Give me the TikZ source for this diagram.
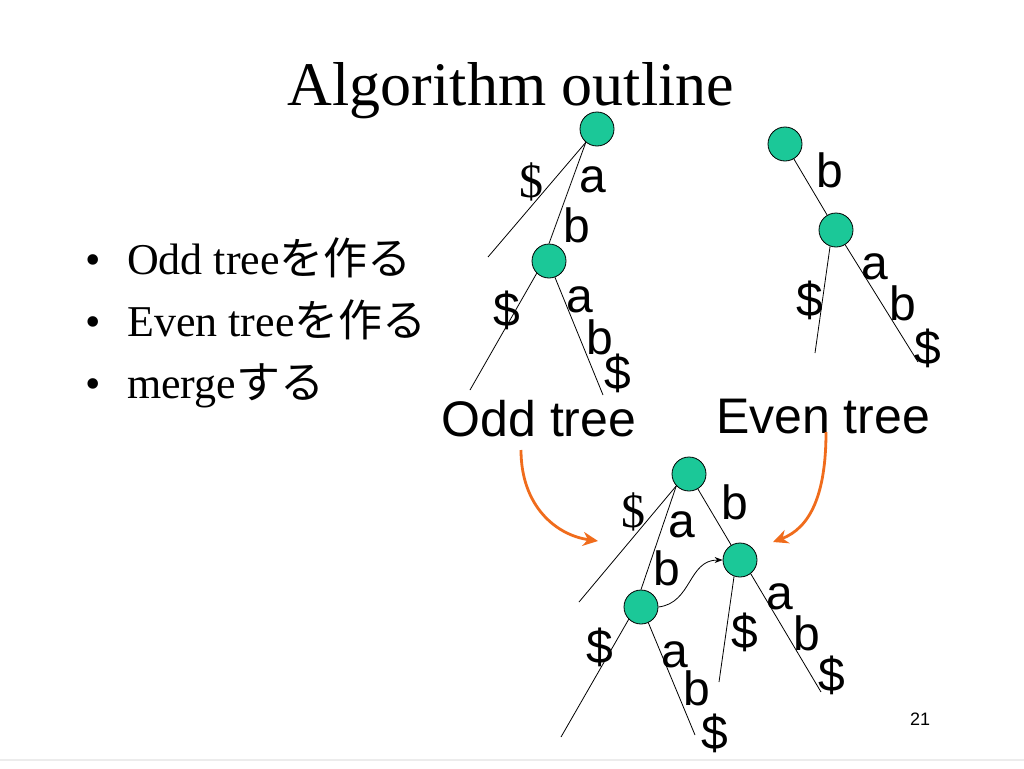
\documentclass[tikz,border=0pt]{standalone}
\usepackage{fontspec}
\setmainfont{Liberation Serif}
\setsansfont{Liberation Sans}
\newfontfamily\jpfont{Noto Sans CJK JP}
\usetikzlibrary{arrows.meta}
\definecolor{nodegreen}{RGB}{27,200,152}
\definecolor{mergeorange}{RGB}{240,108,28}

\begin{document}
\begin{tikzpicture}[x=1pt,y=-1pt,
	vertex/.style={draw,circle,fill=nodegreen,inner sep=0pt,minimum size=34pt,line width=0.8pt},
	edge/.style={line width=0.8pt},
	lbl/.style={inner sep=0pt,font=\fontsize{48}{50}\selectfont\sffamily},
	slbl/.style={inner sep=0pt,font=\fontsize{48}{50}\selectfont\rmfamily},
	caption/.style={inner sep=0pt,font=\fontsize{50}{52}\selectfont\sffamily},
	item/.style={inner sep=0pt,anchor=base west,font=\fontsize{44}{46}\selectfont},
	merge/.style={draw=mergeorange,line width=2.8pt,-{Stealth[length=15pt,width=14pt]}}]
	\fill[white] (0,0) rectangle (1024,768);
	\useasboundingbox (0,0) rectangle (1024,768);
	\draw[gray!15,line width=1.2pt] (0,760) -- (1024,760);
	% title and bullets
	\node[inner sep=0pt,anchor=base,font=\fontsize{62}{64}\selectfont] (title) at (511,105) {Algorithm outline};
	\foreach \txt/\py [count=\i] in {Odd tree{\jpfont を作る}/274, Even tree{\jpfont を作る}/336, merge{\jpfont する}/398} {
		\node[item,anchor=base] (dot\i) at (93,\py) {\textbullet};
		\node[item] (item\i) at (127,\py) {\txt};
	}
	% odd tree
	\node[vertex] (oroot) at (597,129) {};
	\node[vertex] (onode) at (549,261) {};
	\coordinate (oleafA) at (488,257);
	\coordinate (oleafB) at (470,390);
	\coordinate (oleafC) at (603,395);
	\draw[edge] (oroot.230) -- (oleafA);
	\draw[edge] (oroot.230) -- (onode.north);
	\draw[edge] (onode.225) -- (oleafB);
	\draw[edge] (onode.290) -- (oleafC);
	\node[slbl] (olbl0) at (531,182) {\$};
	\foreach \txt/\px/\py [count=\i] in {a/593/180, b/577/225, \$/507/310, a/580/300, b/600/337, \$/618/373} {
		\node[lbl] (olbl\i) at (\px,\py) {\txt};
	}
	\node[caption] (oddcap) at (539,419) {Odd tree};
	% even tree
	\node[vertex] (eroot) at (785,144) {};
	\node[vertex] (enode) at (836,230) {};
	\coordinate (eleafA) at (815,353);
	\coordinate (eleafB) at (918,362);
	\draw[edge] (eroot) -- (enode);
	\draw[edge] (enode.250) -- (eleafA);
	\draw[edge] (enode) -- (eleafB);
	\foreach \txt/\px/\py [count=\i] in {b/830/170, \$/810/300, a/875/267, b/903/303, \$/928/348} {
		\node[lbl] (elbl\i) at (\px,\py) {\txt};
	}
	\node[caption] (evencap) at (823,417) {Even tree};
	% merged tree
	\node[vertex] (mroot) at (689,474) {};
	\node[vertex] (ml) at (641,607) {};
	\node[vertex] (mr) at (740,560) {};
	\coordinate (mleafA) at (579,602);
	\coordinate (mleafB) at (561,737);
	\coordinate (mleafC) at (695,735);
	\coordinate (mleafD) at (719,682);
	\coordinate (mleafE) at (821,692);
	\draw[edge] (mroot.223) -- (mleafA);
	\draw[edge] (mroot.223) -- (ml.north);
	\draw[edge] (mroot) -- (mr);
	\draw[edge] (ml.225) -- (mleafB);
	\draw[edge] (ml.295) -- (mleafC);
	\draw[edge] (mr.250) -- (mleafD);
	\draw[edge] (mr.308) -- (mleafE);
	\draw[edge,-{Stealth[length=8pt,width=6pt]}] (ml.east) .. controls (692,603) and (688,560) .. (mr.west);
	\node[slbl] (mlbl0) at (633,512) {\$};
	\foreach \txt/\px/\py [count=\i] in {a/682/525, b/735/502, b/667/568, \$/600/647, a/675/655, b/697/688, \$/715/733, a/780/597, \$/745/632, b/807/633, \$/832/675} {
		\node[lbl] (mlbl\i) at (\px,\py) {\txt};
	}
	% merge arrows
	\coordinate (oddfrom) at (521,450);
	\coordinate (oddto) at (598,541);
	\coordinate (evenfrom) at (826,432);
	\coordinate (evento) at (773,542);
	\draw[merge] (oddfrom) .. controls (521,505) and (555,535) .. (oddto);
	\draw[merge] (evenfrom) .. controls (826,495) and (810,528) .. (evento);
	\node[inner sep=0pt,font=\fontsize{18}{20}\selectfont\sffamily] (pagenum) at (920,719) {21};
\end{tikzpicture}
\end{document}
